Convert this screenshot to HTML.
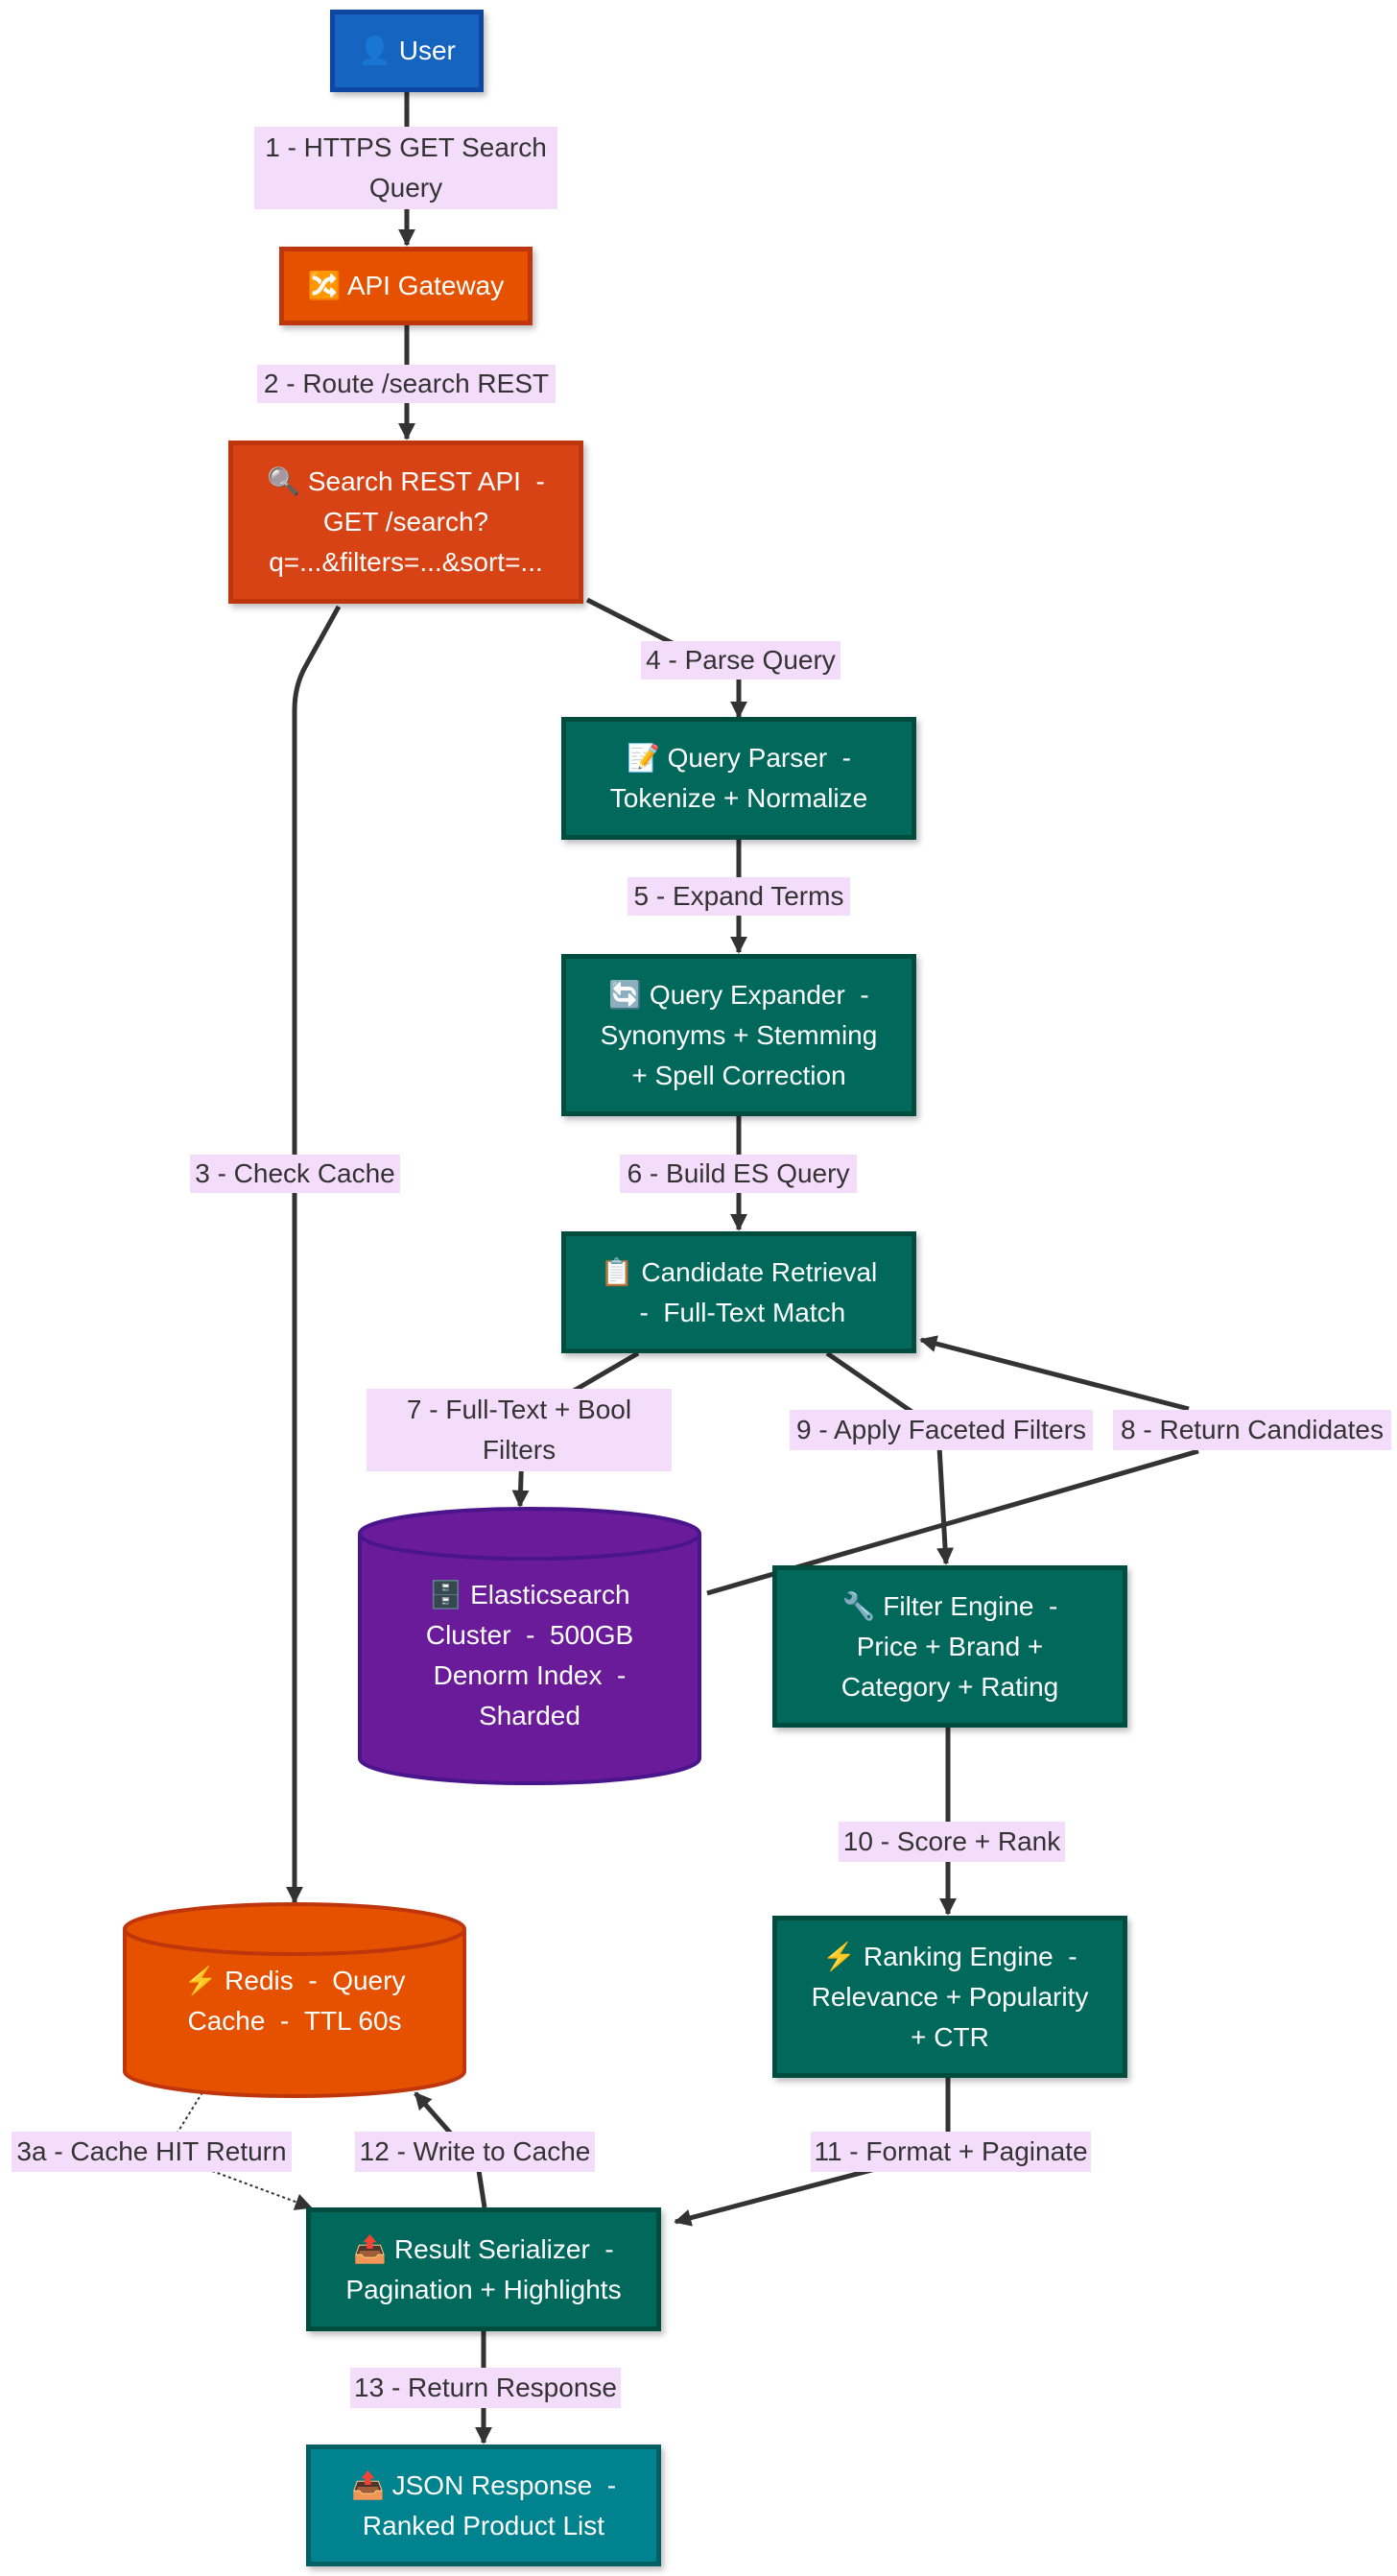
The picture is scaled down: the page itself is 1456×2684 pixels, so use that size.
<!DOCTYPE html>
<html><head><meta charset="utf-8"><style>
html,body{margin:0;padding:0;background:#fff;}
body{width:1456px;height:2684px;position:relative;overflow:hidden;font-family:"Liberation Sans","Noto Sans CJK SC",sans-serif;}
.n{position:absolute;box-sizing:border-box;display:flex;align-items:center;justify-content:center;text-align:center;color:#fff;font-size:28px;line-height:42px;border:5px solid;box-shadow:3px 4px 6px rgba(0,0,0,0.25);}
.t{background:#00695C;border-color:#004D40;}
.l{position:absolute;background:#F3DDFB;color:#333;font-size:28px;line-height:42px;text-align:center;display:flex;align-items:center;justify-content:center;white-space:nowrap;}
.c{position:absolute;display:flex;align-items:center;justify-content:center;text-align:center;color:#fff;font-size:28px;line-height:42px;}
svg{position:absolute;left:0;top:0;}
</style></head><body>
<svg width="1456" height="2684">
<defs>
<marker id="b" viewBox="0 0 10 10" refX="9" refY="5" markerWidth="18" markerHeight="18" orient="auto" markerUnits="userSpaceOnUse"><path d="M0,0 L10,5 L0,10 z" fill="#333"/></marker>
</defs>
<g fill="none" stroke="#333" stroke-width="5">
<path d="M424,96 L424,255" marker-end="url(#b)"/>
<path d="M424,339 L424,457" marker-end="url(#b)"/>
<path d="M612,625 L740,690 L770,700 L770,747" marker-end="url(#b)"/>
<path d="M353,632 L318,695 Q307,715 307,740 L307,1982" marker-end="url(#b)"/>
<path d="M770,875 L770,992" marker-end="url(#b)"/>
<path d="M770,1163 L770,1281" marker-end="url(#b)"/>
<path d="M665,1410 L545,1480 L542,1569" marker-end="url(#b)"/>
<path d="M862,1410 L978,1490 L986,1629" marker-end="url(#b)"/>
<path d="M737,1660 L1249,1512"/>
<path d="M1239,1468 L960,1396" marker-end="url(#b)"/>
<path d="M988,1800 L988,1994" marker-end="url(#b)"/>
<path d="M988,2165 L988,2240 L704,2315" marker-end="url(#b)"/>
<path d="M505,2300 L498,2255 L433,2181" marker-end="url(#b)"/>
<path d="M504,2429 L504,2545" marker-end="url(#b)"/>
</g>
<path d="M211,2180 L185,2222" fill="none" stroke="#333" stroke-width="2" stroke-dasharray="3,3"/>
<path d="M221,2262 L324,2300" fill="none" stroke="#333" stroke-width="2" stroke-dasharray="3,3" marker-end="url(#b)"/>
<path d="M375,1598 A177,26 0 0 1 729,1598 L729,1832 A177,26 0 0 1 375,1832 Z" fill="#6A1B9A" stroke="#4A148C" stroke-width="4"/>
<path d="M375,1598 A177,26 0 0 0 729,1598" fill="none" stroke="#4A148C" stroke-width="4"/>
<path d="M130,2010 A177,26 0 0 1 484,2010 L484,2158 A177,26 0 0 1 130,2158 Z" fill="#E65100" stroke="#BF360C" stroke-width="4"/>
<path d="M130,2010 A177,26 0 0 0 484,2010" fill="none" stroke="#BF360C" stroke-width="4"/>
</svg>

<div class="n" style="left:344px;top:10px;width:160px;height:86px;background:#1565C0;border-color:#0D47A1;">👤 User</div>
<div class="n" style="left:291px;top:257px;width:264px;height:82px;background:#E65100;border-color:#BF360C;">🔀 API Gateway</div>
<div class="n" style="left:238px;top:459px;width:370px;height:170px;background:#D84315;border-color:#BF360C;">🔍 Search REST API &nbsp;-<br>GET /search?<br>q=...&amp;filters=...&amp;sort=...</div>
<div class="n t" style="left:585px;top:747px;width:370px;height:128px;">📝 Query Parser &nbsp;-<br>Tokenize + Normalize</div>
<div class="n t" style="left:585px;top:994px;width:370px;height:169px;">🔄 Query Expander &nbsp;-<br>Synonyms + Stemming<br>+ Spell Correction</div>
<div class="n t" style="left:585px;top:1283px;width:370px;height:127px;">📋 Candidate Retrieval<br>&nbsp;- &nbsp;Full-Text Match</div>
<div class="n t" style="left:805px;top:1631px;width:370px;height:169px;">🔧 Filter Engine &nbsp;-<br>Price + Brand +<br>Category + Rating</div>
<div class="n t" style="left:805px;top:1996px;width:370px;height:169px;">⚡ Ranking Engine &nbsp;-<br>Relevance + Popularity<br>+ CTR</div>
<div class="n t" style="left:319px;top:2300px;width:370px;height:129px;">📤 Result Serializer &nbsp;-<br>Pagination + Highlights</div>
<div class="n" style="left:319px;top:2547px;width:370px;height:127px;background:#00838F;border-color:#006064;">📤 JSON Response &nbsp;-<br>Ranked Product List</div>

<div class="c" style="left:380px;top:1620px;width:344px;height:210px;">🗄️ Elasticsearch<br>Cluster &nbsp;- &nbsp;500GB<br>Denorm Index &nbsp;-<br>Sharded</div>
<div class="c" style="left:135px;top:2035px;width:344px;height:100px;">⚡ Redis &nbsp;- &nbsp;Query<br>Cache &nbsp;- &nbsp;TTL 60s</div>

<div class="l" style="left:265px;top:132px;width:316px;height:86px;white-space:normal;">1 - HTTPS GET Search<br>Query</div>
<div class="l" style="left:268px;top:380px;width:311px;height:40px;">2 - Route /search REST</div>
<div class="l" style="left:668px;top:668px;width:208px;height:40px;">4 - Parse Query</div>
<div class="l" style="left:654px;top:914px;width:232px;height:40px;">5 - Expand Terms</div>
<div class="l" style="left:646px;top:1203px;width:247px;height:40px;">6 - Build ES Query</div>
<div class="l" style="left:198px;top:1203px;width:219px;height:40px;">3 - Check Cache</div>
<div class="l" style="left:382px;top:1447px;width:318px;height:86px;white-space:normal;">7 - Full-Text + Bool<br>Filters</div>
<div class="l" style="left:823px;top:1469px;width:316px;height:42px;">9 - Apply Faceted Filters</div>
<div class="l" style="left:1160px;top:1469px;width:290px;height:42px;">8 - Return Candidates</div>
<div class="l" style="left:874px;top:1898px;width:236px;height:42px;">10 - Score + Rank</div>
<div class="l" style="left:12px;top:2221px;width:292px;height:42px;">3a - Cache HIT Return</div>
<div class="l" style="left:370px;top:2221px;width:250px;height:42px;">12 - Write to Cache</div>
<div class="l" style="left:845px;top:2221px;width:292px;height:42px;">11 - Format + Paginate</div>
<div class="l" style="left:365px;top:2467px;width:282px;height:42px;">13 - Return Response</div>
</body></html>
